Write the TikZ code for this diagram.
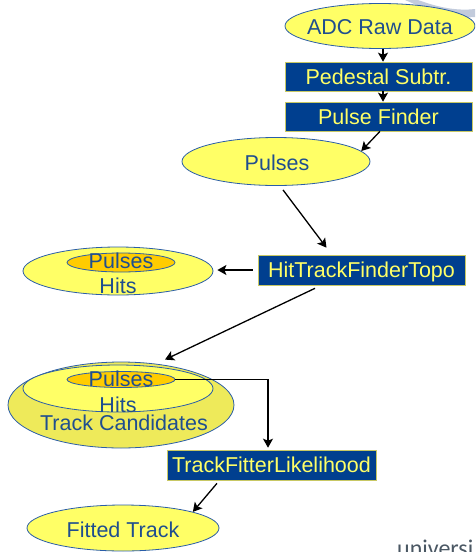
\documentclass[tikz,border=0pt]{standalone}
\usepackage{fontspec}
\setmainfont{Liberation Sans}
\newfontfamily\unifont{Carlito}
\usetikzlibrary{arrows.meta,shapes.geometric}
\definecolor{ellyellow}{HTML}{FFFF66}
\definecolor{bigyellow}{HTML}{EEEA5A}
\definecolor{innerorange}{HTML}{FFCC00}
\definecolor{ellblue}{HTML}{2A5DA8}
\definecolor{txtblue}{HTML}{1F4E8F}
\definecolor{boxblue}{HTML}{003F8F}
\definecolor{boxtext}{HTML}{FFFF66}
\definecolor{boxedge}{HTML}{C8C864}
\definecolor{unigray}{HTML}{4A5763}
\definecolor{swoosh}{HTML}{9AA8C4}
\tikzset{
 ell/.style={ellipse, draw=ellblue, fill=ellyellow, line width=0.8pt, inner sep=0pt},
 inell/.style={ell, fill=innerorange},
 etext/.style={inner sep=0pt, text height=15.4pt, text depth=0pt, text=txtblue, font=\fontsize{21.5}{24}\selectfont},
 procbox/.style={rectangle, fill=boxblue, draw=boxedge, line width=0.6pt, inner sep=0pt, minimum height=29pt, text height=15.4pt, text depth=0pt, text=boxtext, font=\fontsize{21.5}{24}\selectfont},
 arr/.style={draw=black, line width=1.3pt, -{Stealth[length=9pt,width=10pt,inset=2pt]}},
}
\begin{document}
\begin{tikzpicture}[x=1pt,y=-1pt]
\useasboundingbox (0,0) rectangle (475,552);
\clip (0,0) rectangle (475,552);
% background swoosh
\fill[swoosh!60] (418,0) .. controls (440,8) and (458,11) .. (475,9) -- (475,17) .. controls (452,19) and (430,11) .. (405,0) -- cycle;
% nodes
\node[ell, minimum width=190pt, minimum height=45pt] (adc) at (380,26) {};
\node[etext] (adct) at (380,27) {ADC Raw Data};
\node[procbox, minimum width=187pt] (ped) at (378.5,76.5) {Pedestal Subtr.};
\node[procbox, minimum width=187pt] (pf) at (378.5,116.5) {Pulse Finder};
\node[ell, minimum width=188pt, minimum height=48pt] (pul) at (276,161.5) {};
\node[etext] (pult) at (277,162.5) {Pulses};
\node[procbox, minimum width=207pt, minimum height=30pt] (hit) at (361.5,270) {HitTrackFinderTopo};
\node[ell, minimum width=190pt, minimum height=48pt] (ph) at (118,271) {};
\node[inell, minimum width=108pt, minimum height=19pt] (phin) at (121,262.5) {};
\node[etext] (php) at (121,261) {Pulses};
\node[etext] (phh) at (118,285.5) {Hits};
\node[ell, fill=bigyellow, minimum width=226pt, minimum height=86pt] (big) at (121,405) {};
\node[ell, minimum width=190pt, minimum height=47pt] (bmid) at (118,388.5) {};
\node[inell, minimum width=108pt, minimum height=16pt] (bin) at (121,379.5) {};
\node[etext] (bp) at (121,379) {Pulses};
\node[etext] (bh) at (118,404.5) {Hits};
\node[etext] (bt) at (124,423) {Track Candidates};
\node[procbox, minimum width=209pt, minimum height=30pt] (tf) at (271.5,465) {TrackFitterLikelihood};
\node[ell, minimum width=192pt, minimum height=46pt] (fit) at (123,528) {};
\node[etext] (fitt) at (123,529.5) {Fitted Track};
\node[anchor=base west, inner sep=0pt, font=\unifont\fontsize{24}{26}\selectfont, text=unigray] (uni) at (397,556) {universi};
% connectors
\draw[arr] ([shift={(4.5,0)}]ped.north |- adc.south) -- ([shift={(4.5,0)}]ped.north);
\draw[arr] ([shift={(4.5,0)}]ped.south) -- ([shift={(4.5,0)}]pf.north);
\draw[arr] ([shift={(1.5,0)}]pf.south) -- (pul.7);
\draw[arr] ([shift={(7,4)}]pul.south) -- ([shift={(-35,-7)}]hit.north);
\draw[arr] ([shift={(-5,0)}]hit.west) -- ([shift={(4,0)}]ph.east |- hit.west);
\draw[arr] ([shift={(-46.5,3)}]hit.south) -- ([shift={(44,-2)}]big.north);
\draw[arr] (bin.east) -| ([shift={(-3.5,-2)}]tf.north);
\draw[arr] ([shift={(-54.5,3)}]tf.south) -- (fit.13);
\end{tikzpicture}
\end{document}
